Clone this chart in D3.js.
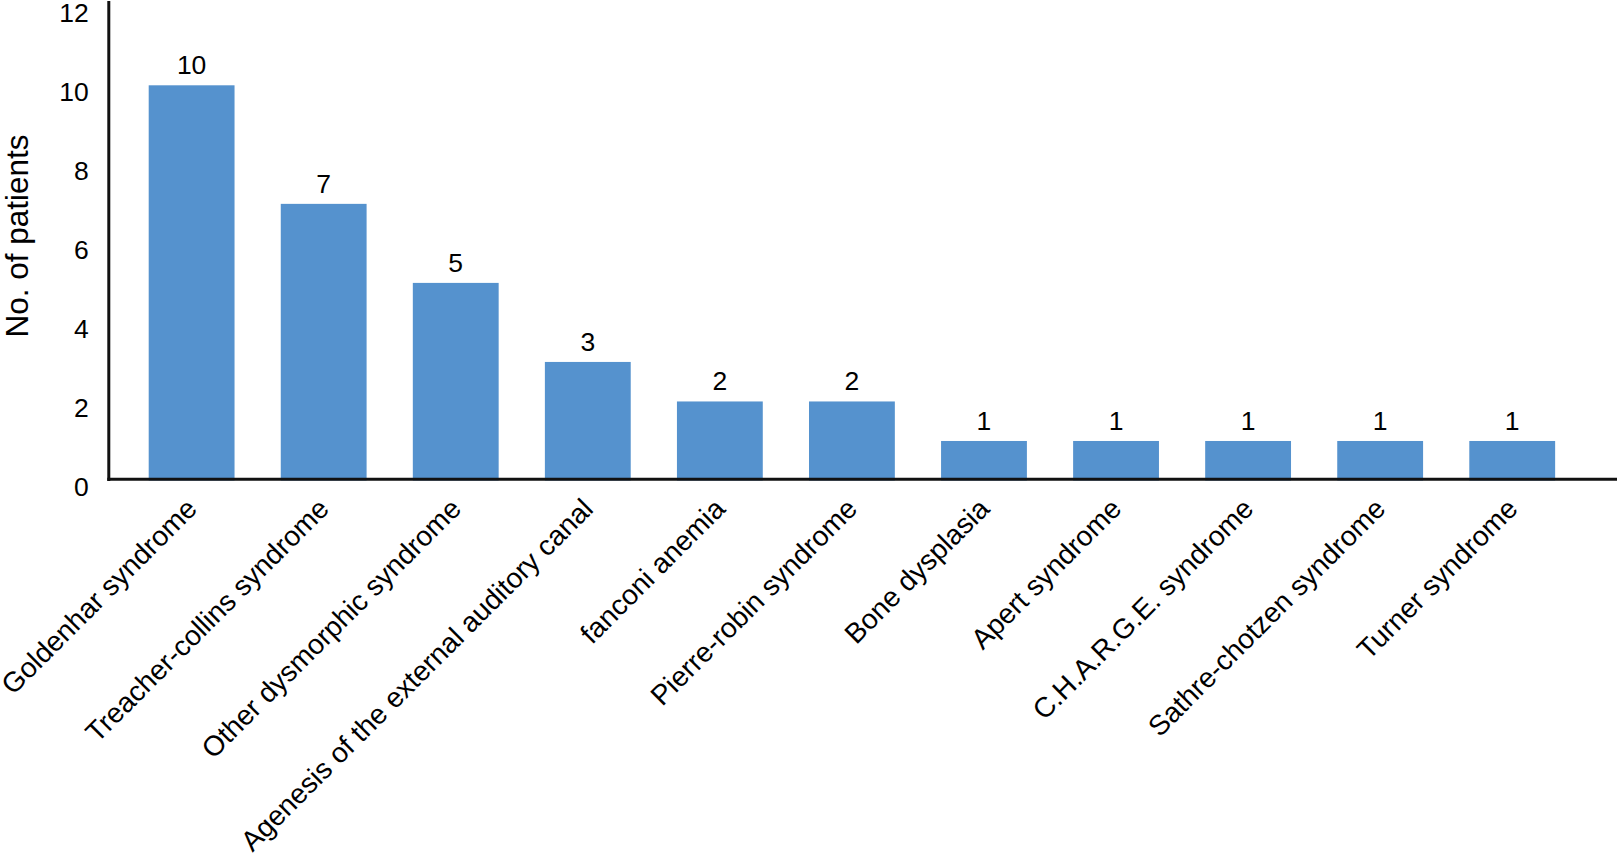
<!DOCTYPE html>
<html>
<head>
<meta charset="utf-8">
<script src="https://cdn.jsdelivr.net/npm/d3@7"></script>
<style>
  html, body { margin: 0; padding: 0; background: #fff; }
  svg { display: block; }
  text { font-family: "Liberation Sans", Arial, Helvetica, sans-serif; fill: #000; }
</style>
</head>
<body>
<svg id="chart" width="1617" height="862"></svg>
<script>
const categories = [
  "Goldenhar syndrome",
  "Treacher-collins syndrome",
  "Other dysmorphic syndrome",
  "Agenesis of the external auditory canal",
  "fanconi anemia",
  "Pierre-robin syndrome",
  "Bone dysplasia",
  "Apert syndrome",
  "C.H.A.R.G.E. syndrome",
  "Sathre-chotzen syndrome",
  "Turner syndrome"
];
const patients = [10, 7, 5, 3, 2, 2, 1, 1, 1, 1, 1];
const yTicks = [0, 2, 4, 6, 8, 10, 12];
const yTitle = "No. of patients";

const svg = d3.select("#chart");
const axisX = 108.8;
const baseY = 480.5;
const step = 132.06;
const firstLeft = 148.7;
const pin = 0.35;

const x = d3.scaleBand()
  .domain(categories)
  .range([firstLeft - step * pin / 2, firstLeft - step * pin / 2 + step * categories.length])
  .paddingInner(pin)
  .paddingOuter(pin / 2);

const y = d3.scaleLinear().domain([0, 10]).range([baseY, 85.3]);

// bars
svg.append("g").selectAll("rect")
  .data(patients)
  .join("rect")
  .attr("x", (d, i) => x(categories[i]))
  .attr("width", x.bandwidth())
  .attr("y", d => y(d))
  .attr("height", d => baseY - y(d))
  .attr("fill", "#5592CE");

// value labels
svg.append("g").selectAll("text")
  .data(patients)
  .join("text")
  .attr("x", (d, i) => x(categories[i]) + x.bandwidth() / 2)
  .attr("y", d => y(d) - 11)
  .attr("text-anchor", "middle")
  .attr("font-size", 26.5)
  .text(d => d);

// y axis (labels only, no ticks)
const yAxis = d3.axisLeft(y).tickValues(yTicks).tickSize(0).tickPadding(20).tickFormat(d3.format("d"));
const gy = svg.append("g").attr("transform", `translate(${axisX},0)`).call(yAxis);
gy.select(".domain").remove();
gy.selectAll("text")
  .attr("font-size", 26.5)
  .attr("dy", null)
  .attr("y", 14.8)
  .style("font-family", "'Liberation Sans', Arial, sans-serif")
  .attr("fill", "#000");

// x axis labels
const xAxis = d3.axisBottom(x).tickSize(0).tickPadding(0);
const gx = svg.append("g").attr("transform", `translate(0,${baseY})`).call(xAxis);
gx.select(".domain").remove();
gx.selectAll(".tick text")
  .attr("font-size", 28.1)
  .attr("text-anchor", "end")
  .attr("y", 0)
  .attr("dy", "0.35em")
  .attr("transform", "translate(0,23) rotate(-45)")
  .style("font-family", "'Liberation Sans', Arial, sans-serif")
  .attr("fill", "#000");

// axis lines
svg.append("line")
  .attr("x1", axisX).attr("x2", axisX)
  .attr("y1", 1).attr("y2", baseY + 0.5)
  .attr("stroke", "#111").attr("stroke-width", 3);
svg.append("line")
  .attr("x1", axisX - 1.5).attr("x2", 1617)
  .attr("y1", baseY - 1.3).attr("y2", baseY - 1.3)
  .attr("stroke", "#111").attr("stroke-width", 3);

// y title
svg.append("text")
  .attr("transform", `translate(28,236) rotate(-90)`)
  .attr("text-anchor", "middle")
  .attr("font-size", 31.5)
  .text(yTitle);
</script>
</body>
</html>
